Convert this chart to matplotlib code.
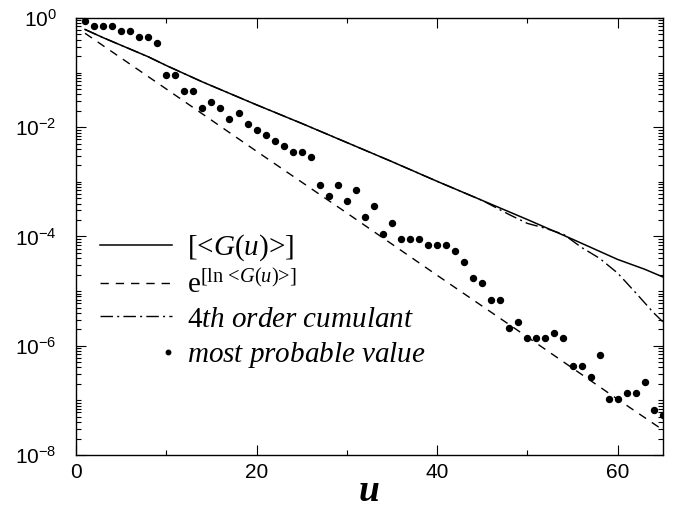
import numpy as np
import matplotlib
matplotlib.use("Agg")
import matplotlib.pyplot as plt
from matplotlib.legend_handler import HandlerLine2D
from matplotlib.ticker import FixedLocator, LogLocator, NullFormatter, FixedFormatter

plt.rcParams['mathtext.fontset'] = 'custom'
plt.rcParams['mathtext.rm'] = 'Liberation Serif'
plt.rcParams['mathtext.it'] = 'Liberation Serif:italic'
plt.rcParams['mathtext.bf'] = 'Liberation Serif:bold'
plt.rcParams['mathtext.sf'] = 'Liberation Sans'

# ---- data (log10 values) ----
u_mean = [1, 3, 5, 8, 10, 14, 20, 25, 30, 35, 40, 45, 50, 55, 60, 63, 65]
log_mean = [-0.21, -0.36, -0.50, -0.71, -0.87, -1.17, -1.59, -1.93, -2.28,
            -2.63, -2.99, -3.34, -3.69, -4.05, -4.42, -4.60, -4.74]

u_lnmean = [1, 10, 20, 30, 40, 50, 60, 65]
log_lnmean = [-0.28, -1.30, -2.44, -3.57, -4.71, -5.84, -6.98, -7.54]

u_cum4 = [1, 3, 5, 8, 10, 14, 20, 25, 30, 35, 40, 45, 48, 50, 52, 54, 56, 58, 60, 62, 64, 65]
log_cum4 = [-0.21, -0.36, -0.50, -0.71, -0.87, -1.17, -1.59, -1.93, -2.28,
            -2.63, -2.99, -3.34, -3.60, -3.76, -3.85, -3.96, -4.20, -4.40,
            -4.67, -5.03, -5.40, -5.56]

u_mp = list(range(1, 66))
log_mp = [-0.05, -0.14, -0.14, -0.14, -0.24, -0.24, -0.34, -0.34, -0.45, -1.04,
          -1.04, -1.34, -1.34, -1.65, -1.54, -1.64, -1.84, -1.74, -1.94, -2.05,
          -2.15, -2.25, -2.34, -2.45, -2.45, -2.55, -3.05, -3.25, -3.05, -3.35,
          -3.15, -3.65, -3.44, -3.96, -3.75, -4.05, -4.05, -4.05, -4.16, -4.16,
          -4.16, -4.26, -4.46, -4.76, -4.86, -5.16, -5.16, -5.67, -5.56, -5.86,
          -5.86, -5.86, -5.76, -5.86, -6.37, -6.37, -6.57, -6.17, -6.97, -6.97,
          -6.87, -6.87, -6.67, -7.17, -7.27]

ytick_vals = [1e-8, 1e-6, 1e-4, 1e-2, 1e0]
ytick_labels = [r'$\mathsf{10^{-8}}$', r'$\mathsf{10^{-6}}$', r'$\mathsf{10^{-4}}$',
                r'$\mathsf{10^{-2}}$', r'$\mathsf{10^{0}}$']
xtick_vals = [0, 20, 40, 60]

fig = plt.figure(figsize=(6.77, 5.14), dpi=100)
ax = fig.add_axes([0.1123, 0.1148, 0.8667, 0.8502])

l1, = ax.plot(u_mean, 10 ** np.array(log_mean), color='black', lw=1.1, ls='-')
l2, = ax.plot(u_lnmean, 10 ** np.array(log_lnmean), color='black', lw=1.0,
              ls=(0, (6, 5)))
l3, = ax.plot(u_cum4, 10 ** np.array(log_cum4), color='black', lw=1.0,
              ls=(0, (9, 3, 1.5, 3)))
l4, = ax.plot(u_mp, 10 ** np.array(log_mp), color='black', ls='none',
              marker='o', markersize=4.3)

ax.set_yscale('log')
ax.set_xlim(0, 65)
ax.set_ylim(1e-8, 1e0)

ax.yaxis.set_major_locator(FixedLocator(ytick_vals))
ax.yaxis.set_major_formatter(FixedFormatter(ytick_labels))
ax.yaxis.set_minor_locator(LogLocator(base=10, subs=np.arange(1, 10), numticks=50))
ax.yaxis.set_minor_formatter(NullFormatter())
ax.xaxis.set_major_locator(FixedLocator(xtick_vals))
ax.xaxis.set_minor_locator(FixedLocator([10, 30, 50]))

ax.tick_params(which='both', direction='in', top=True, right=True, width=0.8)
ax.tick_params(which='major', length=7)
ax.tick_params(which='minor', length=3.5)
ax.tick_params(axis='x', labelsize=15, pad=6)
ax.tick_params(axis='y', labelsize=15, pad=14)
for lab in ax.get_xticklabels() + ax.get_yticklabels():
    lab.set_fontfamily('Liberation Sans')
for s in ax.spines.values():
    s.set_linewidth(1.0)

ax.set_xlabel('u', fontsize=27, fontstyle='italic', fontweight='bold',
              fontfamily='Liberation Serif', labelpad=-6)


class RightDot(HandlerLine2D):
    def get_xdata(self, legend, xdescent, ydescent, width, height, fontsize):
        x = width - xdescent - 0.15 * fontsize
        return np.array([x]), np.array([x])

    def create_artists(self, *args, **kwargs):
        arts = super().create_artists(*args, **kwargs)
        for a in arts:
            a.set_markersize(3.2)
        return arts


labels = [r'[<$G(u)$>]',
          r'$\mathrm{e}^{\text{[ln <}G(u)\text{>]}}$',
          r'$\mathit{4th\ order\ cumulant}$', r'$\mathit{most\ probable\ value}$']
leg = ax.legend([l1, l2, l3, l4], labels, loc='upper left',
                bbox_to_anchor=(0.021, 0.536), borderaxespad=0, frameon=False,
                prop={'family': 'Liberation Serif', 'size': 21},
                handlelength=2.48, handletextpad=0.5, labelspacing=0.25,
                numpoints=1, handler_map={l4: RightDot(numpoints=2)})

fig.savefig('out.png', dpi=100)
